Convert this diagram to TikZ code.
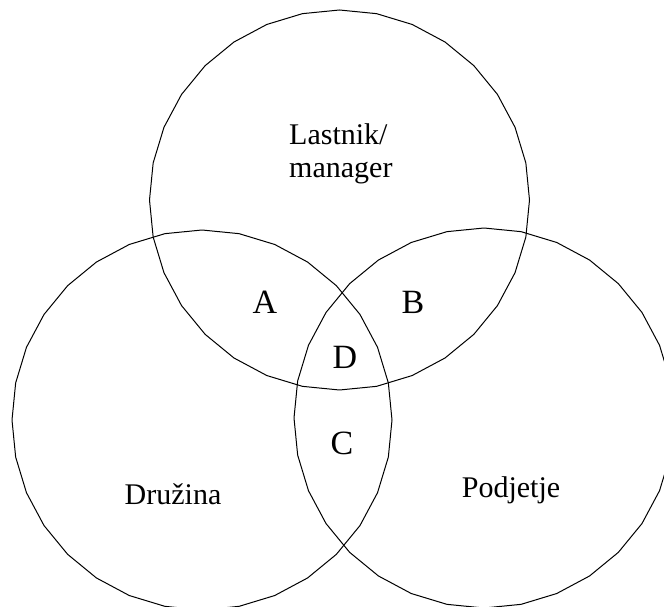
\documentclass[tikz,border=0pt]{standalone}
\usepackage{fontspec}
\setmainfont{Liberation Serif}
\begin{document}
\begin{tikzpicture}[x=1pt,y=1pt,
  setline/.style={draw=black,line width=1pt,line join=round},
  label/.style={font=\fontsize{30}{33}\selectfont,inner sep=0pt,anchor=base},
  region/.style={label,font=\fontsize{34}{36}\selectfont}]
\useasboundingbox (0,0) rectangle (664,606);
\clip (0,0) rectangle (664,606);
% three sets, each drawn as a 32-sided polygon with a vertex at the top
\foreach \cx/\cy in {339.5/406, 202/186, 484/188}{
  \draw[setline] plot[samples=33,domain=90:450] ({\cx+190*cos(\x)},{\cy+190*sin(\x)}) -- cycle;
}
% the base of a two-line node sits on its last line
\node[label,anchor=base west,align=left] (owner) at (289,428) {Lastnik/\\manager};
\node[label] (family) at (173,102) {Družina};
\node[label] (firm) at (511,109) {Podjetje};
\node[region] (a) at (265,292) {A};
\node[region] (b) at (413,293) {B};
\node[region] (c) at (342,152) {C};
\node[region] (d) at (345,238) {D};
\end{tikzpicture}
\end{document}
